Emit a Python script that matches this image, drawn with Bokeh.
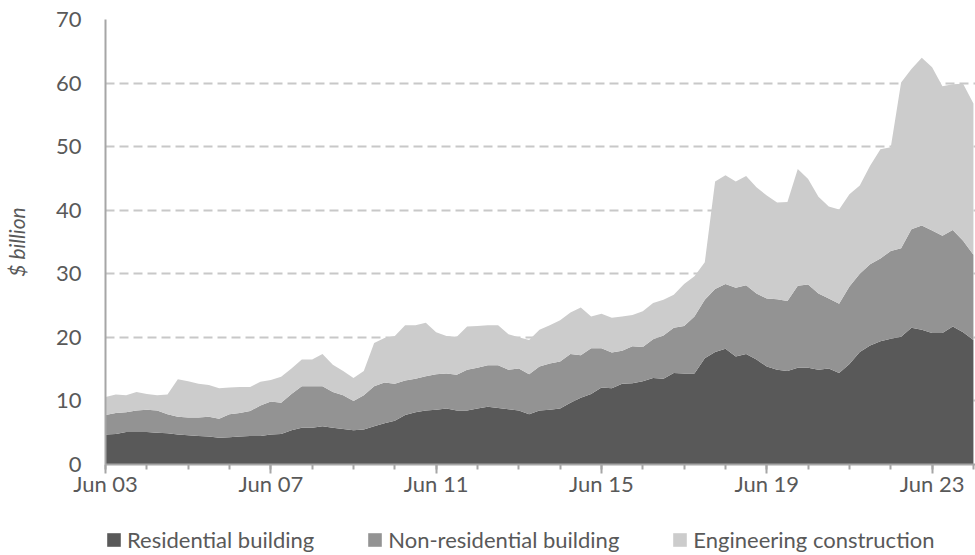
import pandas as pd
from bokeh.plotting import figure
from bokeh.layouts import column
from bokeh.models import ColumnDataSource, Range1d, FixedTicker, Legend, LegendItem
from bokeh.embed import file_html
from bokeh.resources import INLINE

# Quarterly periods, Jun 2003 .. Jun 2024
quarters = [d.strftime("%b %y") for d in pd.date_range("2003-06-01", periods=85, freq="3MS")]

residential = [4.7, 4.8, 5.1, 5.1, 5.1, 5.0, 4.9, 4.7, 4.6, 4.5,
               4.4, 4.2, 4.3, 4.4, 4.5, 4.5, 4.7, 4.8, 5.4, 5.8,
               5.8, 6.0, 5.8, 5.6, 5.4, 5.5, 6.0, 6.5, 6.9, 7.8,
               8.2, 8.5, 8.6, 8.8, 8.5, 8.5, 8.8, 9.1, 8.9, 8.7,
               8.5, 7.9, 8.5, 8.6, 8.8, 9.7, 10.5, 11.1, 12.1, 12.0,
               12.7, 12.8, 13.1, 13.6, 13.5, 14.4, 14.3, 14.3, 16.7, 17.7,
               18.2, 17.0, 17.4, 16.5, 15.4, 14.9, 14.7, 15.2, 15.2, 14.9,
               15.1, 14.4, 15.8, 17.7, 18.7, 19.4, 19.8, 20.1, 21.5, 21.2,
               20.7, 20.7, 21.7, 20.8, 19.6]

non_residential = [3.1, 3.3, 3.1, 3.4, 3.5, 3.5, 3.0, 2.8, 2.8, 2.9,
                   3.1, 3.0, 3.6, 3.7, 3.9, 4.8, 5.2, 4.9, 5.7, 6.5,
                   6.5, 6.3, 5.6, 5.3, 4.6, 5.4, 6.3, 6.4, 5.8, 5.4,
                   5.3, 5.4, 5.6, 5.5, 5.6, 6.4, 6.4, 6.5, 6.7, 6.2,
                   6.6, 6.3, 6.9, 7.3, 7.4, 7.7, 6.7, 7.2, 6.2, 5.6,
                   5.2, 5.8, 5.4, 6.1, 6.8, 7.1, 7.5, 9.0, 9.2, 9.9,
                   10.2, 10.8, 10.8, 10.4, 10.7, 11.1, 11.0, 12.9, 13.1, 12.0,
                   11.0, 10.9, 12.2, 12.3, 12.8, 13.0, 13.8, 13.9, 15.5, 16.4,
                   16.1, 15.3, 15.2, 14.4, 13.4]

engineering = [2.8, 2.9, 2.7, 2.9, 2.5, 2.4, 3.1, 5.9, 5.7, 5.3,
               5.0, 4.8, 4.2, 4.1, 3.8, 3.7, 3.4, 4.1, 4.0, 4.2,
               4.2, 5.1, 4.3, 3.8, 3.6, 3.8, 6.8, 7.0, 7.5, 8.7,
               8.4, 8.4, 6.6, 5.9, 6.0, 6.8, 6.6, 6.3, 6.3, 5.6,
               4.9, 5.4, 5.8, 6.0, 6.5, 6.5, 7.5, 5.0, 5.4, 5.5,
               5.4, 4.9, 5.6, 5.7, 5.6, 5.2, 6.6, 6.3, 5.9, 16.9,
               17.1, 16.7, 17.2, 16.7, 16.2, 15.2, 15.6, 18.4, 16.6, 15.2,
               14.5, 14.8, 14.5, 13.9, 15.5, 17.2, 16.3, 26.1, 25.2, 26.4,
               25.7, 23.5, 22.9, 24.7, 23.8]

series_names = ["Residential building", "Non-residential building", "Engineering construction"]
tick_labels = ["Jun 03", "Jun 07", "Jun 11", "Jun 15", "Jun 19", "Jun 23"]
y_ticks = [0, 10, 20, 30, 40, 50, 60, 70]

colors = ["#595959", "#939393", "#cccccc"]
FONT = "Lato"
TXT = "#595959"
AXC = "#a6a6a6"

x = list(range(len(quarters)))
source = ColumnDataSource(dict(x=x, res=residential, nonres=non_residential, eng=engineering))

p = figure(width=975, height=520, x_range=Range1d(0, 84.2), y_range=Range1d(0, 70),
           output_backend="svg", toolbar_location=None,
           min_border_left=104, min_border_right=0, min_border_top=19, min_border_bottom=56)
p.outline_line_color = None
p.background_fill_color = "white"

rs = p.varea_stack(["res", "nonres", "eng"], x="x", color=colors, source=source)

major_pos = [quarters.index(lbl) for lbl in tick_labels]
xa = p.xaxis[0]
xa.ticker = FixedTicker(ticks=major_pos, minor_ticks=list(range(0, len(quarters), 4)))
xa.major_label_overrides = {pos: lbl for pos, lbl in zip(major_pos, tick_labels)}
xa.axis_line_color = AXC
xa.axis_line_width = 2
xa.major_tick_line_color = AXC
xa.major_tick_line_width = 2
xa.minor_tick_line_color = AXC
xa.minor_tick_line_width = 2
xa.major_tick_in = 0
xa.minor_tick_in = 0
xa.major_tick_out = 9
xa.minor_tick_out = 5
xa.major_label_standoff = -4
xa.major_label_text_font = FONT
xa.major_label_text_font_size = "22px"
xa.major_label_text_color = TXT

ya = p.yaxis[0]
ya.ticker = FixedTicker(ticks=y_ticks)
ya.axis_line_color = AXC
ya.axis_line_width = 2
ya.major_tick_line_color = None
ya.minor_tick_line_color = None
ya.major_tick_out = 0
ya.major_tick_in = 0
ya.major_label_standoff = 24
ya.major_label_text_font = FONT
ya.major_label_text_font_size = "22px"
ya.major_label_text_color = TXT
ya.axis_label = "$ billion"
ya.axis_label_text_font = FONT
ya.axis_label_text_font_size = "21px"
ya.axis_label_text_font_style = "italic"
ya.axis_label_text_color = TXT
ya.axis_label_standoff = 24

p.xgrid.visible = False
p.ygrid.grid_line_color = "#c8c8c8"
p.ygrid.grid_line_width = 2
p.ygrid.grid_line_dash = "9 5"

# Legend strip below the chart (no axes, frame spans the whole strip)
lg = figure(width=975, height=35, x_range=Range1d(0, 1), y_range=Range1d(0, 1),
            x_axis_location=None, y_axis_location=None,
            output_backend="svg", toolbar_location=None,
            min_border_left=0, min_border_right=0, min_border_top=0, min_border_bottom=0)
lg.grid.visible = False
lg.outline_line_color = None
swatches = [lg.varea(x=[0, 0], y1=[0, 0], y2=[0, 0], color=c) for c in colors]
legend = Legend(items=[LegendItem(label=n, renderers=[r]) for n, r in zip(series_names, swatches)],
                orientation="horizontal", location=(0, 2),
                glyph_width=17, glyph_height=17, label_standoff=5, spacing=52,
                padding=0, margin=0, border_line_color=None, background_fill_alpha=0,
                label_text_font=FONT, label_text_font_size="22px", label_text_color=TXT)
lg.add_layout(legend)

layout = column(p, lg, spacing=0)
open("out.html", "w").write(file_html(layout, INLINE))
